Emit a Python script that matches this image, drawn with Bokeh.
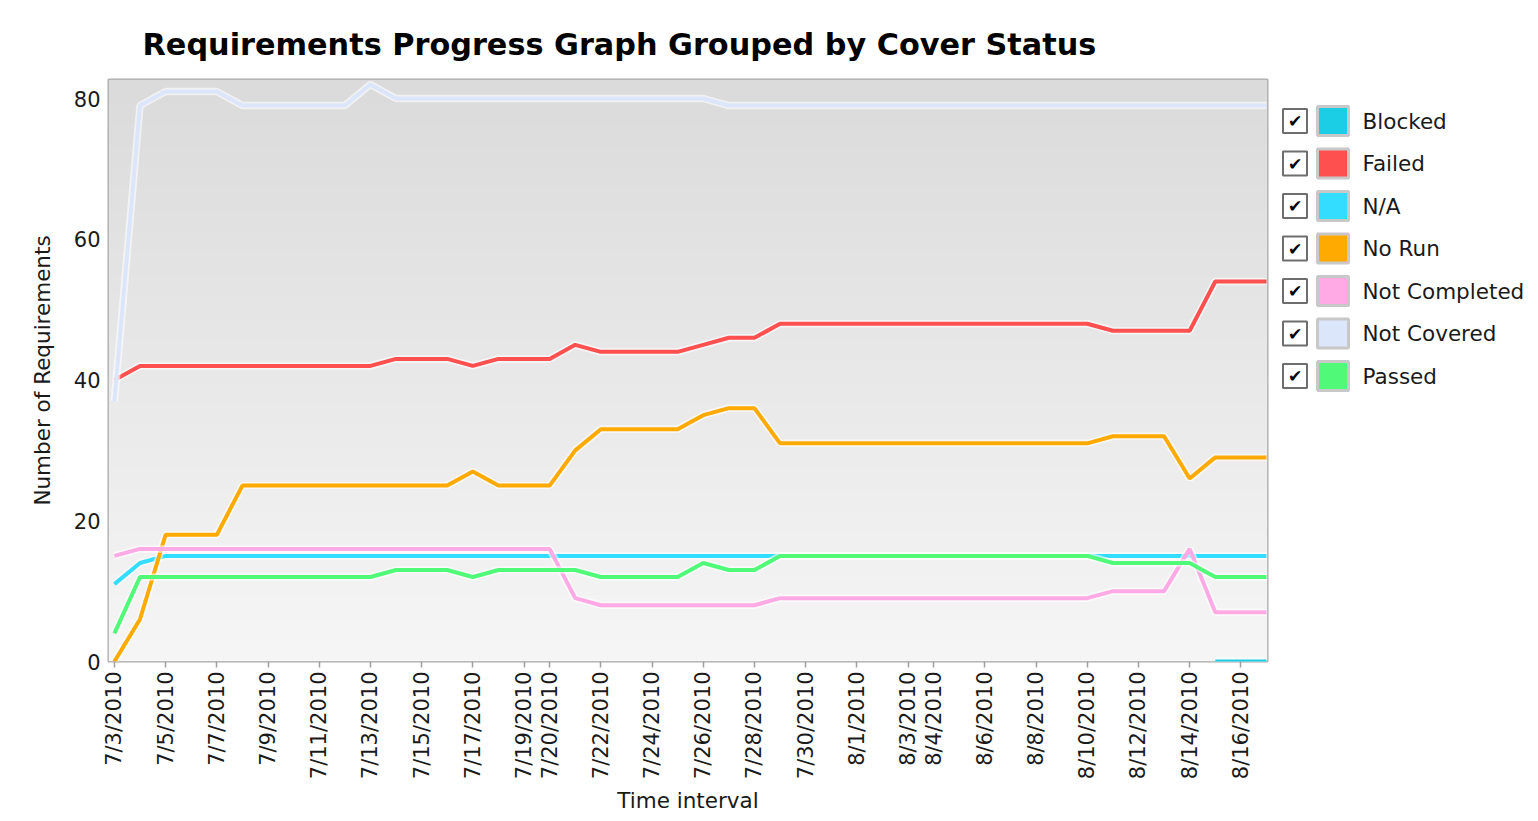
import numpy as np
from bokeh.plotting import figure
from bokeh.models import Range1d, FixedTicker, ColumnDataSource
from bokeh.layouts import row
from bokeh.core.properties import value
from bokeh.embed import file_html
from bokeh.resources import INLINE

nan = float("nan")

# ---------------- data ----------------
day_labels = (["7/%d/2010" % d for d in range(3, 32)] +
              ["8/%d/2010" % d for d in range(1, 18)])

tick_labels = ["7/3/2010", "7/5/2010", "7/7/2010", "7/9/2010", "7/11/2010",
               "7/13/2010", "7/15/2010", "7/17/2010", "7/19/2010", "7/20/2010",
               "7/22/2010", "7/24/2010", "7/26/2010", "7/28/2010", "7/30/2010",
               "8/1/2010", "8/3/2010", "8/4/2010", "8/6/2010", "8/8/2010",
               "8/10/2010", "8/12/2010", "8/14/2010", "8/16/2010"]

blocked = [nan] * 43 + [0, 0, 0]
failed = ([40] + [42] * 10 + [43] * 3 + [42] + [43] * 3 + [45] + [44] * 4 +
          [45] + [46] * 2 + [48] * 13 + [47] * 4 + [54] * 3)
na = [11, 14] + [15] * 44
no_run = ([0, 6] + [18] * 3 + [25] * 9 + [27] + [25] * 3 + [30] + [33] * 4 +
          [35] + [36] * 2 + [31] * 13 + [32] * 3 + [26] + [29] * 3)
not_completed = ([15] + [16] * 17 + [9] + [8] * 7 + [9] * 13 + [10] * 3 +
                 [16] + [7] * 3)
not_covered = ([37, 79] + [81] * 3 + [79] * 5 + [82] + [80] * 13 + [79] * 22)
passed = ([4] + [12] * 10 + [13] * 3 + [12] + [13] * 4 + [12] * 4 + [14] +
          [13] * 2 + [15] * 13 + [14] * 4 + [12] * 3)

series_names = ["Blocked", "Failed", "N/A", "No Run", "Not Completed",
                "Not Covered", "Passed"]
series_values = [blocked, failed, na, no_run, not_completed, not_covered, passed]
series_colors = ["#1CCDE6", "#FF5050", "#33DDFF", "#FFAA00", "#FFAAE4",
                 "#DCE6FA", "#50FA78"]

y_ticks = [0, 20, 40, 60, 80]

# ---------------- layout constants (pixels) ----------------
FIG_H = 818
TOP = 79
LEFT = 108
RIGHT = 8
BOTTOM = FIG_H - 661
FRAME_H = FIG_H - TOP - BOTTOM

# ---------------- main chart ----------------
x = list(range(len(day_labels)))
x_range = Range1d(-0.23, 45.04)
y_range = Range1d(0, 82.7)

p = figure(width=1275, height=FIG_H, x_range=x_range, y_range=y_range,
           output_backend="svg", toolbar_location=None,
           min_border_left=LEFT, min_border_right=RIGHT, min_border_top=TOP,
           min_border_bottom=BOTTOM,
           title="Requirements Progress Graph Grouped by Cover Status")

p.title.text_font = "DejaVu Sans"
p.title.text_font_style = "bold"
p.title.text_font_size = "30.3px"
p.title.text_color = "#000000"
p.title.offset = 34
p.title.standoff = 36

p.background_fill_color = "#EBEBEB"
p.border_fill_color = "#FFFFFF"
p.outline_line_color = "#A8A8A8"
p.outline_line_width = 2

# vertical gradient background of the plot area
shades = np.linspace(246, 219, 200).astype(np.uint32)
grad = (np.uint32(255) << 24) | (shades << 16) | (shades << 8) | shades
p.image_rgba(image=[grad.reshape(200, 1)], x=x_range.start, y=y_range.start,
             dw=x_range.end - x_range.start, dh=y_range.end - y_range.start)

p.xgrid.grid_line_color = None
p.ygrid.grid_line_color = "#BDBDBD"
p.ygrid.grid_line_width = 1.5

tick_pos = [day_labels.index(t) for t in tick_labels]
p.xaxis.ticker = FixedTicker(ticks=tick_pos)
p.xaxis.major_label_overrides = {i: t for i, t in zip(tick_pos, tick_labels)}
p.xaxis.major_label_orientation = np.pi / 2
p.xaxis.minor_tick_line_color = None
p.xaxis.major_tick_out = 6
p.xaxis.major_tick_in = 0
p.xaxis.major_tick_line_color = "#A0A0A0"
p.xaxis.major_tick_line_width = 1.5
p.xaxis.axis_line_color = None
p.xaxis.major_label_standoff = 4
p.xaxis.axis_label = "Time interval"
p.xaxis.axis_label_standoff = 6

p.yaxis.ticker = FixedTicker(ticks=y_ticks)
p.yaxis.minor_tick_line_color = None
p.yaxis.major_tick_line_color = None
p.yaxis.major_tick_out = 0
p.yaxis.major_tick_in = 0
p.yaxis.axis_line_color = None
p.yaxis.major_label_standoff = 8
p.yaxis.axis_label = "Number of Requirements"
p.yaxis.axis_label_standoff = 16

for ax in (p.xaxis, p.yaxis):
    ax.major_label_text_font = "DejaVu Sans"
    ax.major_label_text_font_size = "21px"
    ax.major_label_text_color = "#1A1A1A"
    ax.axis_label_text_font = "DejaVu Sans"
    ax.axis_label_text_font_size = "21.5px"
    ax.axis_label_text_font_style = "normal"
    ax.axis_label_text_color = "#1A1A1A"

for name, vals, col in zip(series_names, series_values, series_colors):
    src = ColumnDataSource(data=dict(x=x, y=vals))
    p.line("x", "y", source=src, line_color="#FFFFFF", line_alpha=0.6,
           line_width=7.5)
    p.line("x", "y", source=src, line_color=col, line_width=4)

# ---------------- legend (check boxes + swatches + labels) ----------------
# the legend figure's frame is aligned with the main frame by the row layout,
# so its y range is measured in pixels down from the frame top.
leg = figure(width=261, height=FIG_H, x_range=Range1d(0, 261),
             y_range=Range1d(FRAME_H, 0), output_backend="svg",
             toolbar_location=None, x_axis_type=None, y_axis_type=None,
             min_border_left=0, min_border_right=0,
             min_border_top=TOP, min_border_bottom=BOTTOM)
leg.outline_line_color = None
leg.grid.grid_line_color = None
leg.background_fill_color = "#FFFFFF"
leg.border_fill_color = "#FFFFFF"

n = len(series_names)
row_y = [41.5 + 42.5 * i for i in range(n)]
lsrc = ColumnDataSource(data=dict(
    y=row_y, name=series_names, color=series_colors,
    box_x=[19.5] * n, sw_x=[57.5] * n, tx=[87] * n, chk=["\u2714"] * n))

leg.rect(x="box_x", y="y", width=24, height=24, width_units="screen",
         height_units="screen", source=lsrc, fill_color="#FFFFFF",
         line_color="#6E6E6E", line_width=2)
leg.text(x="box_x", y="y", text="chk", source=lsrc, text_align="center",
         text_baseline="middle", text_font=value("DejaVu Sans"),
         text_font_size="17px", text_color="#000000")
leg.rect(x="sw_x", y="y", width=31, height=29, width_units="screen",
         height_units="screen", source=lsrc, fill_color="color",
         line_color="#C8C8C8", line_width=3)
leg.text(x="tx", y="y", text="name", source=lsrc, text_align="left",
         text_baseline="middle", text_font=value("DejaVu Sans"),
         text_font_size="21.5px", text_color="#1A1A1A")

layout = row(p, leg)
open("out.html", "w").write(file_html(layout, INLINE))
